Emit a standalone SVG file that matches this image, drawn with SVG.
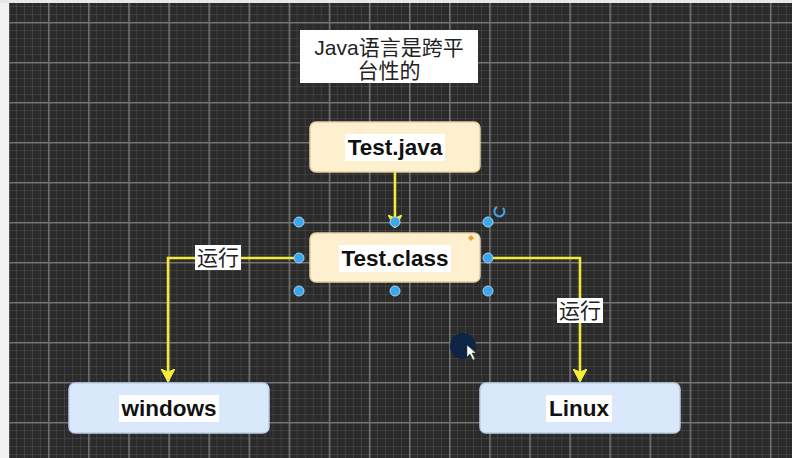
<svg xmlns="http://www.w3.org/2000/svg" width="792" height="458" viewBox="0 0 792 458">
  <defs>
    <pattern id="minor" x="8" y="6" width="8.02" height="8" patternUnits="userSpaceOnUse">
      <path d="M0 0H8.02M0 0V8" stroke="#505050" stroke-width="1" fill="none"/>
    </pattern>
    <pattern id="major" x="8" y="22" width="40.1" height="40" patternUnits="userSpaceOnUse">
      <path d="M0 0.5H40.1M0.5 0V40" stroke="#747474" stroke-width="2" fill="none"/>
    </pattern>
    <marker id="arr" markerWidth="14" markerHeight="14" refX="12" refY="7" orient="auto" markerUnits="userSpaceOnUse">
      <path d="M0 0L13 7L0 14L3 7Z" fill="#f5ee3a" stroke="#f5ee3a" stroke-width="1"/>
    </marker>
  </defs>
  <style>
    .lbl{font-family:"Liberation Sans",Arial,sans-serif;font-weight:bold;font-size:22.5px;fill:#111;text-anchor:middle}
    .cjk{font-family:"Liberation Sans","Noto Sans CJK SC",sans-serif;font-size:21px;fill:#222;text-anchor:middle}
    .edge{fill:none;stroke:#f3ea3c;stroke-width:2.5}
    .yel{fill:#fdf0cf;stroke:#e3cfa0;stroke-width:1.5}
    .blu{fill:#dae8fc;stroke:#bccde8;stroke-width:1.5}
    .h{fill:#3ea6ea;stroke:#9fd3f5;stroke-width:1}
    .tbg{fill:#ffffff}
  </style>
  <rect width="792" height="458" fill="#2b2b2b"/>
  <rect width="792" height="458" fill="url(#minor)"/>
  <rect width="792" height="458" fill="url(#major)"/>
  <rect x="0" y="0" width="9" height="458" fill="#f2f2f2"/>
  <rect x="0" y="0" width="792" height="3" fill="#e8e8e8"/>

  <g id="title">
    <rect x="300" y="30" width="178" height="53" fill="#ffffff"/>
    <text class="cjk" x="389" y="55">Java语言是跨平</text>
    <text class="cjk" x="389" y="78">台性的</text>
  </g>

  <g id="connectors">
    <path class="edge" d="M395 172V227" marker-end="url(#arr)"/>
    <path class="edge" d="M299 258H168V381" marker-end="url(#arr)"/>
    <path class="edge" d="M488 258H580V381" marker-end="url(#arr)"/>
    <rect class="tbg" x="195" y="245" width="46" height="25"/>
    <text class="cjk" x="218" y="265">运行</text>
    <rect class="tbg" x="557" y="298" width="46" height="25"/>
    <text class="cjk" x="580" y="318">运行</text>
  </g>

  <g id="test-java">
    <rect class="yel" x="310" y="122" width="170" height="50" rx="6"/>
    <rect class="tbg" x="345" y="134" width="100" height="27"/>
    <text class="lbl" x="395" y="155">Test.java</text>
  </g>

  <g id="test-class">
    <rect class="yel" x="310" y="233" width="170" height="49" rx="6"/>
    <rect class="tbg" x="339" y="245" width="112" height="27"/>
    <text class="lbl" x="395" y="266">Test.class</text>
    <path d="M471 235L474 238L471 241L468 238Z" fill="#f59a23"/>
    <circle class="h" cx="299" cy="222" r="5"/>
    <circle class="h" cx="395" cy="222" r="5"/>
    <circle class="h" cx="488" cy="222" r="5"/>
    <circle class="h" cx="299" cy="258" r="5"/>
    <circle class="h" cx="488" cy="258" r="5"/>
    <circle class="h" cx="299" cy="291" r="5"/>
    <circle class="h" cx="395" cy="291" r="5"/>
    <circle class="h" cx="488" cy="291" r="5"/>
    <path d="M497 207A5 5 0 1 0 503 208" fill="none" stroke="#3ea6ea" stroke-width="2"/>
  </g>

  <g id="windows">
    <rect class="blu" x="69" y="383" width="200" height="50" rx="6"/>
    <rect class="tbg" x="119" y="395" width="100" height="27"/>
    <text class="lbl" x="169" y="416">windows</text>
  </g>

  <g id="linux">
    <rect class="blu" x="480" y="383" width="200" height="50" rx="6"/>
    <rect class="tbg" x="546" y="395" width="66" height="27"/>
    <text class="lbl" x="579" y="416">Linux</text>
  </g>

  <g id="cursor">
    <circle cx="463" cy="346" r="13" fill="#0e2444"/>
    <path d="M467 345L467 357L470 354L473 360L475 359L472 353L476 353Z" fill="#ffffff" stroke="#333" stroke-width="0.5"/>
  </g>
</svg>
